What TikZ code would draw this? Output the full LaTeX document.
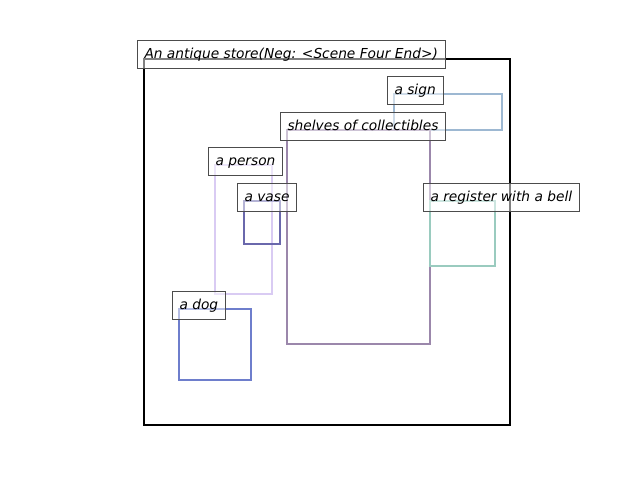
\documentclass[tikz,border=0pt]{standalone}
\usepackage{fontspec}
\setmainfont{DejaVu Sans}
\definecolor{csign}{HTML}{9DB8D2}
\definecolor{cshelf}{HTML}{9B87AB}
\definecolor{cperson}{HTML}{D9CBF3}
\definecolor{cvase}{HTML}{6A68AC}
\definecolor{creg}{HTML}{9ACBBF}
\definecolor{cdog}{HTML}{6E7ECC}
\begin{document}
\begin{tikzpicture}[x=1pt,y=-1pt,
  region/.style={line width=2.2pt},
  tag/.style={draw=black!70, line width=1pt, fill=white, fill opacity=0.5, text opacity=1,
    anchor=west, minimum height=28pt, inner xsep=7.5pt, inner ysep=0pt,
    text height=10.5pt, text depth=2.5pt,
    font=\fontsize{13.75}{16}\selectfont\itshape}]
\useasboundingbox (0,0) rectangle (640,480);
% regions
\draw[region, black] (144,59) rectangle (510,425);
\draw[region, csign] (394,94) rectangle (502,130);
\draw[region, cshelf] (287,130) rectangle (430,344);
\draw[region, cperson] (215,165) rectangle (272,294);
\draw[region, cvase] (244,201) rectangle (280,244);
\draw[region, creg] (430,201) rectangle (495,266);
\draw[region, cdog] (179,309) rectangle (251,380);
% labels
\node[tag] (title) at (136.5,54) {An antique store(Neg: <Scene Four End>)};
\node[tag] (sign) at (386.5,90) {a sign};
\node[tag] (shelves) at (279.5,126) {shelves of collectibles};
\node[tag] (person) at (207.5,161) {a person};
\node[tag] (vase) at (236.5,197) {a vase};
\node[tag] (register) at (422.5,197) {a register with a bell};
\node[tag] (dog) at (171.5,305) {a dog};
\end{tikzpicture}
\end{document}
